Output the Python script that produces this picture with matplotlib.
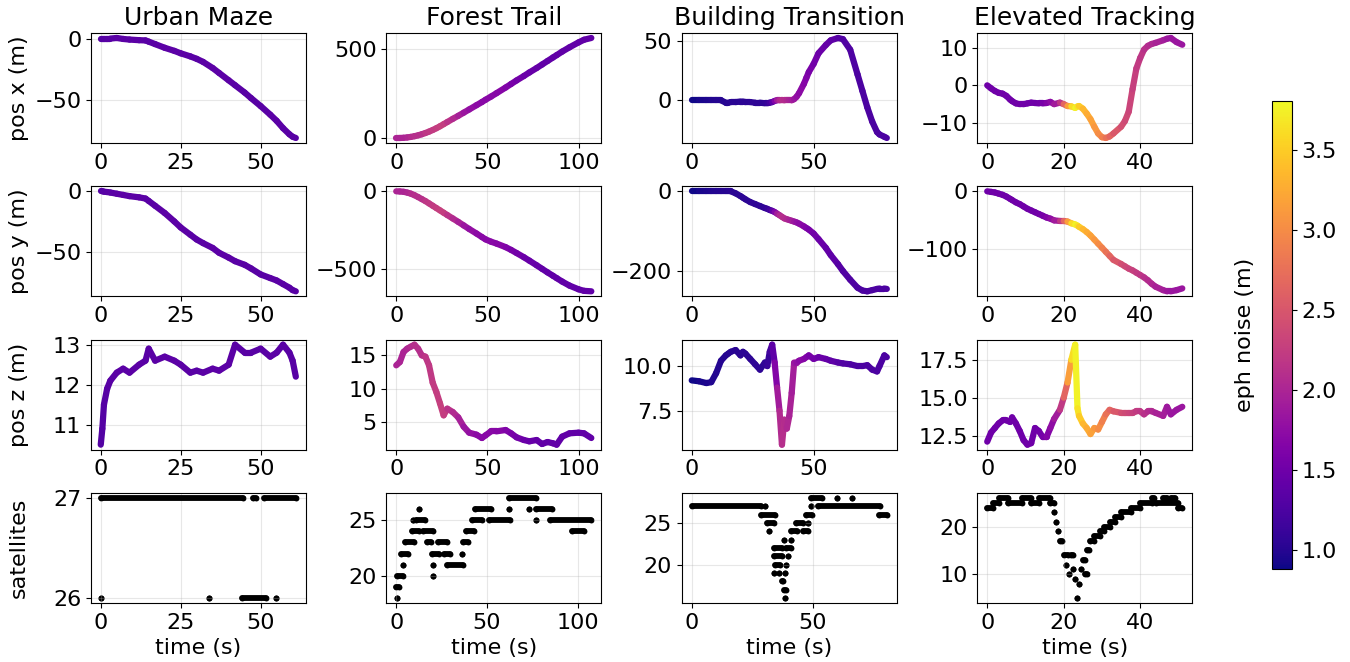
import matplotlib
matplotlib.use("Agg")
import matplotlib.pyplot as plt
import numpy as np
from matplotlib.collections import LineCollection
from matplotlib.colors import Normalize

plt.rcParams['font.family'] = 'DejaVu Sans'
plt.rcParams['font.size'] = 16

titles = ["Urban Maze", "Forest Trail", "Building Transition", "Elevated Tracking"]
row_labels = ["pos x (m)", "pos y (m)", "pos z (m)", "satellites"]

# Urban Maze
urban_t = [0, 0.5, 1, 2, 3, 5, 7, 9, 12, 14, 15, 17, 20, 23, 25, 28, 30, 32, 35, 37,
           40, 42, 45, 47, 50, 53, 55, 57, 59, 60, 61]
urban_x = [0, 0, 0, 0, 0, 0.5, -0.3, -0.8, -1.3, -1.5, -2.5, -4.5, -7.5, -10, -12, -14.5,
           -16.5, -19, -24, -28, -34, -38, -44, -48.5, -55, -62, -67, -73, -78, -80, -81]
urban_y = [0, 0, -0.3, -0.6, -1, -2, -3, -4, -5, -6, -8, -12, -18, -25, -30, -36, -40, -43,
           -47, -51, -55, -58, -61, -64, -69, -72, -74, -77, -80, -82, -83]
urban_z = [10.5, 10.9, 11.5, 11.9, 12.1, 12.3, 12.4, 12.3, 12.5, 12.6, 12.9, 12.6, 12.7,
           12.6, 12.5, 12.3, 12.35, 12.3, 12.4, 12.35, 12.5, 13.0, 12.8, 12.8, 12.9, 12.7,
           12.8, 13.0, 12.8, 12.6, 12.2]
urban_eph = [1.30, 1.30, 1.32, 1.33, 1.33, 1.35, 1.35, 1.36, 1.36, 1.35, 1.34, 1.35, 1.36,
             1.37, 1.36, 1.35, 1.34, 1.35, 1.36, 1.37, 1.36, 1.35, 1.34, 1.33, 1.34, 1.35,
             1.36, 1.35, 1.34, 1.33, 1.33]
urban_sat_start = [0, 47.5, 51.2, 0, 33.8, 44.2, 54.7]
urban_sat_end = [44.5, 48.5, 61, 0, 33.8, 51.8, 54.7]
urban_sat_val = [27, 27, 27, 26, 26, 26, 26]

# Forest Trail
forest_t = [0, 2, 4, 6, 8, 10, 12, 14, 16, 18, 20, 22, 24, 26, 28, 31, 34, 37, 40, 44,
            47, 49, 52, 55, 60, 63, 66, 70, 73, 77, 80, 83, 86, 88, 91, 95, 100, 103, 107]
forest_x = [0, 0, 1, 3, 6, 10, 15, 21, 28, 36, 45, 55, 66, 78, 90, 108, 125, 143, 161, 185,
            203, 216, 234, 253, 285, 305, 325, 350, 370, 395, 415, 435, 455, 468, 488, 512,
            540, 555, 565]
forest_y = [0, -1, -3, -8, -15, -25, -37, -50, -63, -78, -93, -108, -123, -138, -153, -175,
            -197, -220, -243, -272, -295, -310, -325, -337, -360, -378, -398, -425, -447,
            -477, -500, -523, -545, -560, -582, -608, -632, -642, -645]
forest_z = [13.5, 14.0, 15.5, 16.0, 16.3, 16.6, 16.0, 15.0, 14.8, 13.5, 10.9, 9.5, 7.8, 6.0,
            7.0, 6.5, 5.7, 4.3, 3.4, 3.1, 2.6, 3.0, 3.6, 3.6, 3.8, 3.3, 2.7, 2.3, 2.1, 2.3,
            1.7, 2.0, 1.8, 1.6, 2.8, 3.3, 3.4, 3.3, 2.6]
forest_eph = [2.0, 2.0, 2.0, 2.0, 2.05, 2.1, 2.1, 2.1, 2.15, 2.2, 2.2, 2.25, 2.25, 2.3, 2.2,
              2.1, 2.0, 1.9, 1.8, 1.75, 1.7, 1.7, 1.7, 1.7, 1.65, 1.6, 1.55, 1.5, 1.45, 1.45,
              1.4, 1.4, 1.4, 1.4, 1.4, 1.4, 1.4, 1.4, 1.4]
forest_sat_start = [0.4, 0, 0.4, 3.7, 2.7, 4.6, 8.8, 9.2, 11, 12.5, 15, 17, 20, 20, 19.8,
                    22.9, 26.5, 28, 36, 36.6, 38.5, 42, 43.6, 51, 62, 62.3, 73, 77, 77,
                    84.6, 97]
forest_sat_end = [0.4, 1.3, 4, 3.7, 6.4, 9.7, 12.5, 9.2, 16, 12.5, 20.5, 19, 20, 20, 23.8,
                  27.8, 29.7, 36.6, 36, 39.4, 43, 47, 52, 62.6, 62, 76.9, 73, 77, 85.7,
                  107.5, 103.5]
forest_sat_val = [18, 19, 20, 21, 22, 23, 24, 25, 25, 26, 24, 23, 20, 21, 22, 23, 22, 21,
                  22, 23, 24, 25, 26, 25, 26, 27, 26, 25, 26, 25, 24]

# Building Transition
building_t = [0, 3, 6, 8, 10, 12, 14, 15, 16, 18, 20, 21, 22, 24, 26, 28, 30, 31, 32, 33,
              34, 35, 36, 37, 38, 39, 40, 41, 42, 43, 44, 46, 47, 48, 50, 52, 55, 57, 60,
              62, 65, 68, 70, 72, 74, 76, 77, 79, 80]
building_x = [0, 0, 0, 0, 0, 0, -2, -2, -1.5, -1.5, -1, -1, -1.5, -1.5, -2, -2, -2.5, -2.5,
              -2, -1.5, -0.5, 0, 0, 0.3, 0, 0, 0, 0, 1, 3, 6, 14, 19, 24, 31, 40, 47, 51, 53,
              52, 43, 22, 8, -6, -18, -27, -29, -31, -32]
building_y = [0, 0, 0, 0, 0, 0, 0, 0, 0, -5, -12, -16, -20, -27, -32, -37, -42, -44, -47,
              -49, -52, -56, -60, -64, -68, -70, -72, -74, -76, -78, -81, -88, -92, -96,
              -106, -120, -142, -160, -183, -200, -222, -242, -249, -251, -248, -245, -244,
              -244, -245]
building_z = [9.2, 9.15, 9.05, 9.1, 9.6, 10.3, 10.6, 10.7, 10.8, 10.9, 10.6, 10.8, 10.7,
              10.4, 10.1, 9.8, 10.2, 10.0, 10.8, 11.2, 10.2, 8.8, 7.5, 5.6, 7.0, 6.5, 7.2,
              8.5, 10.2, 10.2, 10.3, 10.4, 10.5, 10.6, 10.4, 10.5, 10.4, 10.3, 10.2, 10.15,
              10.1, 10.0, 10.0, 10.05, 9.8, 9.7, 10.0, 10.6, 10.5]
building_eph = [0.88, 0.92, 0.95, 0.97, 0.98, 1.0, 1.0, 1.0, 1.02, 1.02, 1.03, 1.03, 1.03,
                1.05, 1.05, 1.05, 1.05, 1.08, 1.15, 1.25, 1.5, 1.8, 2.0, 2.1, 2.1, 2.05, 2.0,
                1.95, 1.9, 1.8, 1.75, 1.7, 1.65, 1.6, 1.55, 1.5, 1.45, 1.4, 1.35, 1.3, 1.28,
                1.25, 1.25, 1.25, 1.25, 1.25, 1.25, 1.25, 1.25]
building_sat_start = [0, 30.4, 28.4, 31, 32, 34, 39, 38, 41, 34, 39.5, 34.5, 39, 34, 36,
                      38.5, 37, 38, 38.5, 41, 46, 43, 48, 47, 49, 49, 60, 66, 52, 77]
building_sat_end = [28.4, 30.4, 34.5, 34, 32, 37, 41, 38, 41, 37, 39.5, 36.5, 39, 34, 36,
                    38.5, 37.5, 39, 38.5, 43.5, 48, 46, 48, 49.5, 49, 53.5, 60, 66, 77.7,
                    80.4]
building_sat_val = [27, 27, 26, 25, 24, 22, 22, 23, 23, 21, 21, 20, 20, 19, 19, 19, 18, 17,
                    16, 24, 24, 25, 25, 26, 27, 28, 28, 28, 27, 26]

# Elevated Tracking
elevated_t = [0, 1, 2, 3, 4, 5, 6, 6.5, 7.5, 8.5, 9.5, 10.5, 11.5, 12.5, 13.5, 14.5, 15.5,
              16.5, 17.5, 19, 20, 21, 22, 23, 23.6, 24, 25, 26, 27, 28, 29, 30, 31, 32, 33,
              35, 36, 37, 38, 39, 40, 41, 42, 43, 44, 46, 47, 48, 49.5, 51]
elevated_x = [0, -0.8, -1.5, -2, -2.2, -2.8, -3.8, -4.2, -4.8, -5, -5, -4.8, -4.6, -4.7,
              -4.8, -4.8, -4.7, -4.4, -5, -4.6, -5, -5.5, -5.6, -6, -5.6, -5.5, -6.2, -7.5,
              -9, -11, -12.8, -13.8, -14, -13.6, -12.8, -11, -9.5, -7, -1, 4.5, 7.3, 9.5,
              10.5, 11, 11.3, 12, 12.4, 12.6, 11.5, 10.8]
elevated_y = [0, -1, -2, -4, -6, -9, -13, -15, -19, -22, -26, -30, -33, -36, -39, -42, -45,
              -47, -50, -51, -51, -52, -55, -57, -59, -61, -65, -70, -76, -83, -90, -97,
              -104, -111, -118, -125, -129, -133, -136, -140, -144, -148, -153, -159, -164,
              -170, -172, -172, -170, -167]
elevated_z = [12.1, 12.7, 13.0, 13.3, 13.5, 13.5, 13.4, 13.7, 13.3, 12.8, 12.2, 11.9, 12.0,
              13.0, 12.8, 12.4, 12.4, 13.0, 13.6, 14.2, 15.0, 16.0, 17.5, 18.5, 14.3, 13.8,
              13.3, 13.0, 12.6, 13.0, 12.9, 13.4, 13.9, 14.2, 14.1, 14.0, 14.0, 14.0, 14.0,
              14.1, 14.1, 13.9, 14.1, 14.1, 14.0, 13.8, 14.4, 13.9, 14.2, 14.4]
elevated_eph = [1.5, 1.5, 1.5, 1.5, 1.5, 1.5, 1.5, 1.5, 1.5, 1.5, 1.5, 1.5, 1.5, 1.5, 1.5,
                1.55, 1.6, 1.7, 1.8, 2.0, 2.4, 2.9, 3.4, 3.81, 3.7, 3.6, 3.4, 3.3, 3.2, 3.15,
                3.05, 2.95, 2.85, 2.7, 2.6, 2.45, 2.4, 2.35, 2.3, 2.25, 2.2, 2.15, 2.1, 2.05,
                2.0, 1.95, 1.9, 1.85, 1.85, 1.85]
elevated_sat_start = [0, 1.5, 3, 5.5, 9, 11.5, 13.5, 16.5, 17.5, 18, 18.5, 19, 20, 20.5,
                      21.5, 22, 22.5, 23, 23.5, 24, 24.5, 25, 25.5, 26, 27, 28, 29.5, 30.5,
                      32, 33.5, 35, 37.5, 40, 43, 44, 46, 48, 50]
elevated_sat_end = [1.5, 3, 5.5, 9, 11.5, 13.5, 16.5, 17.5, 17.5, 18, 18.5, 19.5, 21, 20.5,
                    21.5, 22.5, 22.5, 23, 23.5, 24, 24.5, 25.5, 26, 26.5, 28, 29.5, 30.5,
                    32, 33.5, 35, 37.5, 40, 43, 43.5, 50, 47, 49, 51]
elevated_sat_val = [24, 25, 26, 25, 26, 25, 26, 25, 23, 21, 19, 17, 14, 12, 10, 14, 11, 9,
                    5, 8, 11, 13, 10, 15, 17, 18, 19, 20, 21, 22, 23, 24, 25, 26, 25, 26, 26,
                    24]

scenarios = [
    (urban_t, urban_x, urban_y, urban_z, urban_eph,
     urban_sat_start, urban_sat_end, urban_sat_val),
    (forest_t, forest_x, forest_y, forest_z, forest_eph,
     forest_sat_start, forest_sat_end, forest_sat_val),
    (building_t, building_x, building_y, building_z, building_eph,
     building_sat_start, building_sat_end, building_sat_val),
    (elevated_t, elevated_x, elevated_y, elevated_z, elevated_eph,
     elevated_sat_start, elevated_sat_end, elevated_sat_val),
]

all_eph = np.concatenate([np.asarray(s[4]) for s in scenarios])
norm = Normalize(all_eph.min(), all_eph.max())
cmap = plt.get_cmap('plasma')


def trace(ax, t, v, eph):
    # coloured trajectory, each segment coloured by eph noise
    pts = np.column_stack([t, v]).reshape(-1, 1, 2)
    segs = np.concatenate([pts[:-1], pts[1:]], axis=1)
    eph = np.asarray(eph, dtype=float)
    lc = LineCollection(segs, cmap=cmap, norm=norm, linewidths=4.5,
                        capstyle='round', joinstyle='round')
    lc.set_array((eph[:-1] + eph[1:]) / 2)
    ax.add_collection(lc)
    ax.autoscale_view()


fig, axes = plt.subplots(4, 4, figsize=(13.5, 6.62), dpi=100)
fig.subplots_adjust(left=0.0674, right=0.883, top=0.9502, bottom=0.0891,
                    wspace=0.377, hspace=0.394)

for col, (t, x, y, z, eph, s0, s1, sv) in enumerate(scenarios):
    trace(axes[0, col], t, x, eph)
    trace(axes[1, col], t, y, eph)
    trace(axes[2, col], t, z, eph)

    ax = axes[3, col]
    ax.hlines(sv, s0, s1, colors='black', linewidth=4.2, capstyle='round')
    ax.scatter(s0 + s1, sv + sv, s=18, c='black', linewidths=0)

    axes[0, col].set_title(titles[col], fontsize=18)
    axes[3, col].set_xlabel("time (s)")
    for r in range(4):
        axes[r, col].grid(True, alpha=0.3)

for r in range(4):
    axes[r, 0].set_ylabel(row_labels[r])
fig.align_ylabels(axes[:, 0])

cax = fig.add_axes([0.9422, 0.1405, 0.0148, 0.707])
sm = plt.cm.ScalarMappable(norm=norm, cmap=cmap)
cb = fig.colorbar(sm, cax=cax)
cb.set_label("eph noise (m)", labelpad=12)
cb.ax.yaxis.set_label_position('left')

fig.savefig("out.png", dpi=100)
